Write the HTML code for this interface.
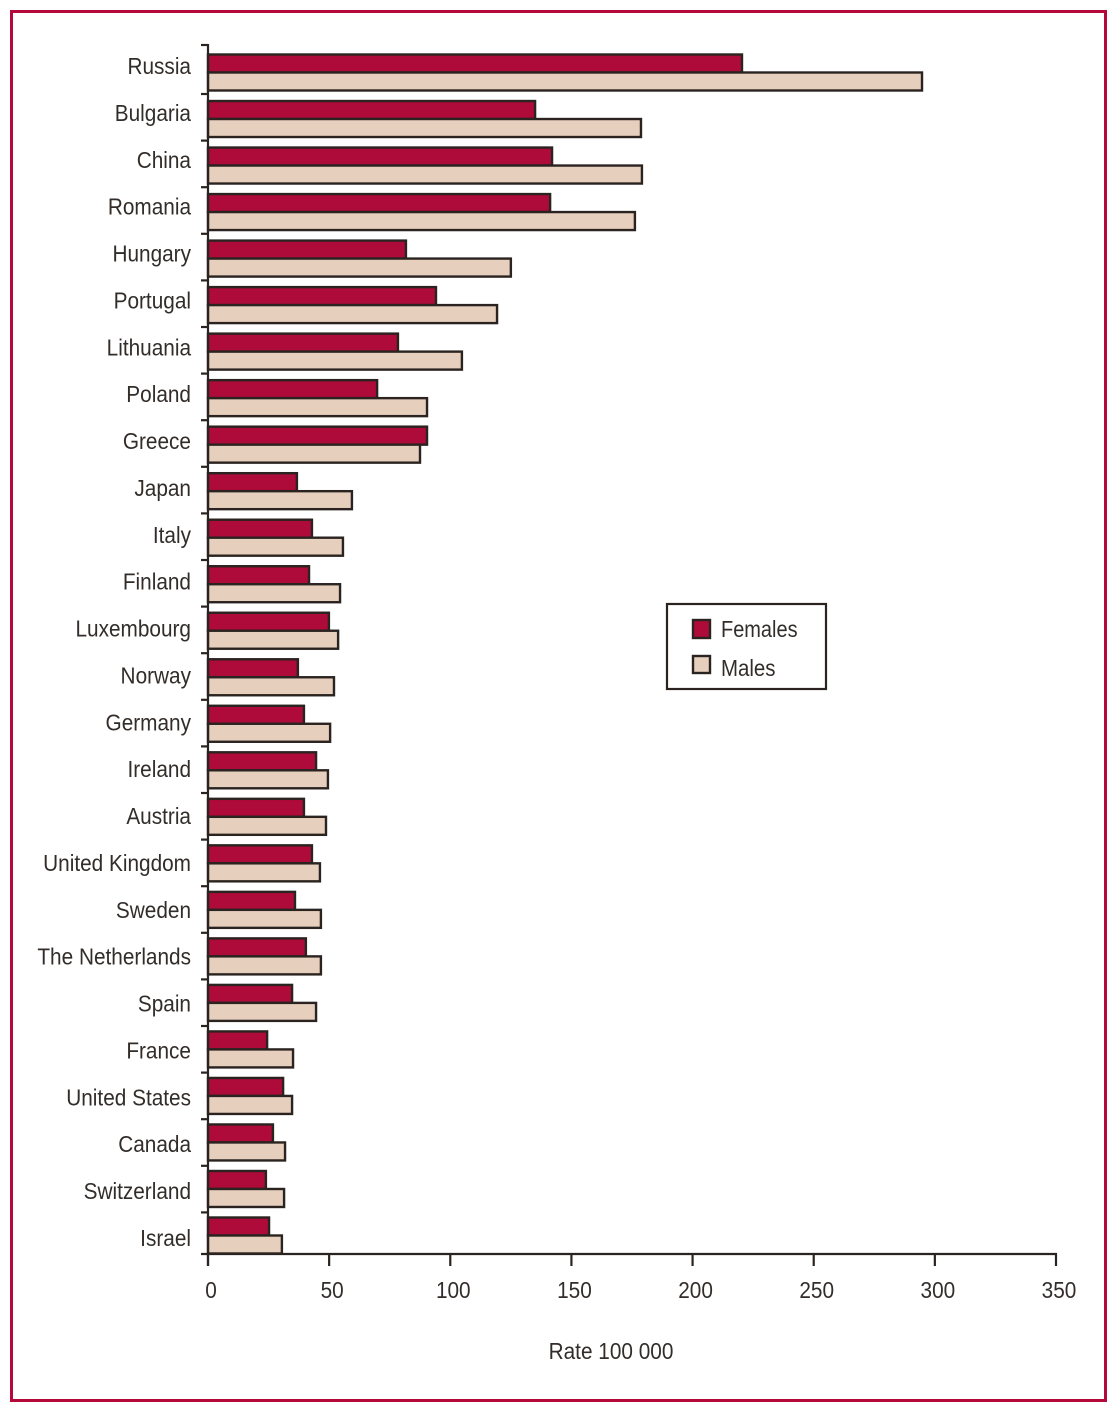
<!DOCTYPE html>
<html lang="en">
<head>
<meta charset="utf-8">
<title>Rate per 100 000 by country and sex</title>
<style>
html,body{margin:0;padding:0;background:#fff;}
svg{display:block;}
text{font-family:"Liberation Sans",sans-serif;font-size:23.5px;fill:#332d2a;}
</style>
</head>
<body>
<svg id="chart" xmlns="http://www.w3.org/2000/svg" width="1117" height="1412" viewBox="0 0 1117 1412">
  <rect x="11.5" y="11.5" width="1094" height="1389" fill="#fff" stroke="#b5093c" stroke-width="3"/>
  <g id="bars"></g>
  <g id="axes"></g>
  <g>
    <rect x="667" y="604" width="159" height="85" fill="#fff" stroke="#2a2320" stroke-width="2.2"/>
    <rect x="693" y="620" width="17" height="18" fill="#ae0a3a" stroke="#2a2320" stroke-width="2.4"/>
    <rect x="693" y="656" width="17" height="17" fill="#e7cfbe" stroke="#2a2320" stroke-width="2.4"/>
    <text transform="translate(721 637) scale(.85 1)">Females</text>
    <text transform="translate(721 676) scale(.87 1)">Males</text>
  </g>
  <text text-anchor="middle" transform="translate(611 1359) scale(.885 1)">Rate 100 000</text>
</svg>
<script>
const categories = ["Russia","Bulgaria","China","Romania","Hungary","Portugal","Lithuania","Poland","Greece","Japan","Italy","Finland","Luxembourg","Norway","Germany","Ireland","Austria","United Kingdom","Sweden","The Netherlands","Spain","France","United States","Canada","Switzerland","Israel"];
const females = [220.4,135,142,141.2,81.7,94.1,78.4,69.8,90.4,36.7,42.9,41.7,49.9,37.1,39.6,44.6,39.6,42.9,35.9,40.4,34.7,24.4,31,26.8,23.9,25.2];
const males = [294.7,178.7,179.1,176.2,125,119.3,104.8,90.4,87.5,59.4,55.7,54.5,53.7,52,50.4,49.5,48.7,46.2,46.6,46.6,44.6,35.1,34.7,31.8,31.4,30.5];
const xTicks = [0,50,100,150,200,250,300,350];

const NS = 'http://www.w3.org/2000/svg';
const INK = '#2a2320';
const barsLayer = document.getElementById('bars');
const axesLayer = document.getElementById('axes');

function xScale(v){ return 208 + v * (1056 - 208) / 350; }
function barTop(i){ return 54.5 + i * 46.52; }
function tickY(i){ return 47.4 + i * 46.6; }
function labelY(i){ return 74 + i * 46.88; }

function make(tag, attrs, parent){
  const el = document.createElementNS(NS, tag);
  for (const k in attrs) el.setAttribute(k, attrs[k]);
  parent.appendChild(el);
  return el;
}
function slug(s){ return s.toLowerCase().replace(/\s+/g, '-'); }

categories.forEach(function(name, i){
  const top = barTop(i);
  const f = make('rect', {x:xScale(0), y:top, width:xScale(females[i]) - xScale(0), height:18, fill:'#ae0a3a', stroke:INK, 'stroke-width':2.4}, barsLayer);
  
  
  const m = make('rect', {x:xScale(0), y:top + 18, width:xScale(males[i]) - xScale(0), height:18, fill:'#e7cfbe', stroke:INK, 'stroke-width':2.4}, barsLayer);
  
  

  const label = make('text', {'text-anchor':'end', transform:'translate(191 ' + labelY(i) + ') scale(.885 1)'}, axesLayer);
  label.textContent = name;
  
  

  const y = i === 0 ? 45 : tickY(i);
  const tick = make('line', {x1:201, x2:208, y1:y, y2:y, stroke:INK, 'stroke-width':2.2}, axesLayer);
  
  
});

const yAxis = make('line', {x1:208, x2:208, y1:44, y2:1266, stroke:INK, 'stroke-width':2.2}, axesLayer);



const xAxis = make('line', {x1:201, x2:1057, y1:1254, y2:1254, stroke:INK, 'stroke-width':2.2}, axesLayer);



xTicks.forEach(function(v){
  const x = xScale(v);
  const tick = make('line', {x1:x, x2:x, y1:1254, y2:1266, stroke:INK, 'stroke-width':2.2}, axesLayer);
  
  
  const label = make('text', {'text-anchor':'middle', transform:'translate(' + (x + 3) + ' 1298) scale(.885 1)'}, axesLayer);
  label.textContent = String(v);
  
  
});
</script>
</body>
</html>
